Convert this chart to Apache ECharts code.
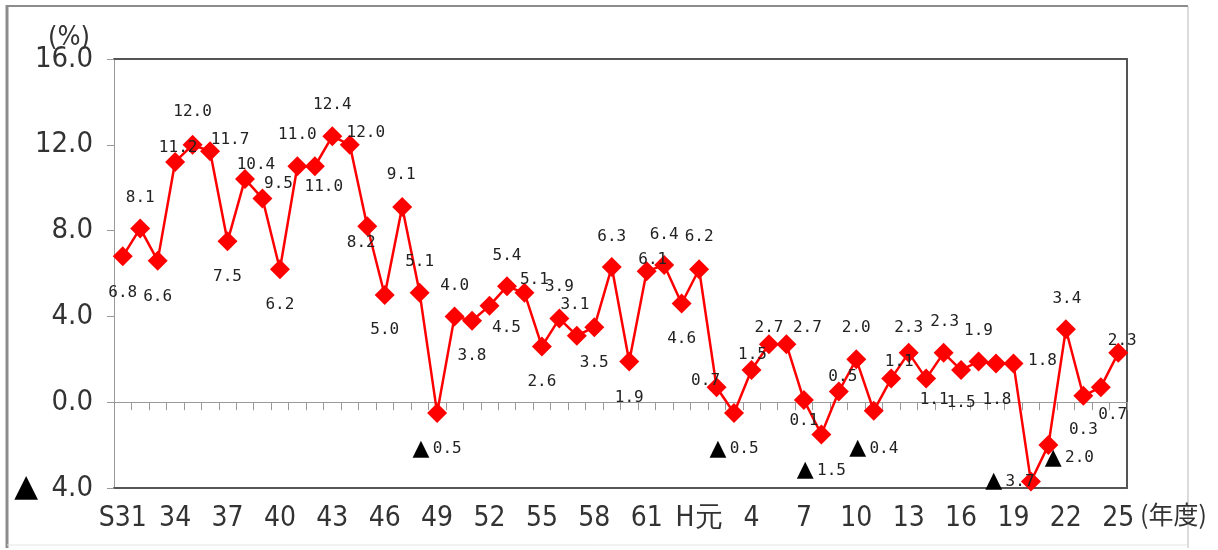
<!DOCTYPE html>
<html>
<head>
<meta charset="utf-8">
<script src="https://cdn.jsdelivr.net/npm/echarts@6/dist/echarts.min.js"></script>
<style>
  html, body { margin: 0; padding: 0; background: #fff; }
  #chart { width: 1218px; height: 550px; }
</style>
</head>
<body>
<div id="chart"></div>
<script>
// Fiscal years: Showa 31 to Heisei 25
const fiscalYears = ['S31','32','33','34','35','36','37','38','39','40','41','42','43','44','45','46','47','48','49','50',
  '51','52','53','54','55','56','57','58','59','60','61','62','63','H元','2','3','4','5','6','7','8','9','10','11','12',
  '13','14','15','16','17','18','19','20','21','22','23','24','25'];

// Year-on-year growth rate (%)
const growthRates = [6.8, 8.1, 6.6, 11.2, 12.0, 11.7, 7.5, 10.4, 9.5, 6.2, 11.0, 11.0, 12.4, 12.0, 8.2, 5.0, 9.1, 5.1,
  -0.5, 4.0, 3.8, 4.5, 5.4, 5.1, 2.6, 3.9, 3.1, 3.5, 6.3, 1.9, 6.1, 6.4, 4.6, 6.2, 0.7, -0.5, 1.5, 2.7, 2.7, 0.1,
  -1.5, 0.5, 2.0, -0.4, 1.1, 2.3, 1.1, 2.3, 1.5, 1.9, 1.8, 1.8, -3.7, -2.0, 3.4, 0.3, 0.7, 2.3];

// Y axis range and step (%)
const yMin = -4, yMax = 16, yStep = 4;

// Value-label offsets from each marker centre [dx, dy] in px
const labelOffsets = [
  [0,37],[0,-31],[0,36],[3,-14],[0,-33],[20,-11],[0,36],[11,-14],[16,-15],[0,36],
  [0,-31],[9,21],[0,-31],[16,-12],[-6,17],[0,35],[-1,-32],[0,-31],[0,36],[0,-31],
  [0,35],[17,22],[0,-31],[10,-13],[0,35],[0,-32],[-2,-31],[0,36],[0,-30],[0,36],
  [6,-12],[0,-30],[0,35],[0,-32],[-11,-6],[0,36],[1,-15],[0,-16],[21,-16],[0,21],
  [0,36],[4,-15],[0,-31],[0,38],[8,-17],[0,-25],[8,21],[1,-31],[0,33],[0,-31],
  [1,36],[29,-3],[-21,0],[21,13],[1,-30],[0,34],[12,28],[4,-12]
];

const axisFont = "'Liberation Sans Narrow', 'DejaVu Sans Condensed', 'Liberation Sans', sans-serif";
const valueFont = "'DejaVu Sans Mono', 'Liberation Mono', monospace";

// Negative values are written with a leading ▲
function fmtValue(v) {
  return v < 0 ? '{t|▲} {n|' + Math.abs(v).toFixed(1) + '}' : '{n|' + v.toFixed(1) + '}';
}

const chart = echarts.init(document.getElementById('chart'), null, { renderer: 'canvas' });

chart.setOption({
  animation: false,
  backgroundColor: '#fff',
  grid: { left: 114, right: 91, top: 59, bottom: 62, show: false },
  graphic: [
    { type: 'line', z: -1, shape: { x1: 7, y1: 6, x2: 1188, y2: 6 }, style: { stroke: '#8c8c8c', lineWidth: 2 } },
    { type: 'line', z: -1, shape: { x1: 7, y1: 5, x2: 7, y2: 548 }, style: { stroke: '#8c8c8c', lineWidth: 3 } },
    { type: 'line', z: -1, shape: { x1: 1188, y1: 6, x2: 1188, y2: 548 }, style: { stroke: '#b8b8b8', lineWidth: 1 } },
    { type: 'line', z: -1, shape: { x1: 7, y1: 545, x2: 1188, y2: 545 }, style: { stroke: '#e4e4e4', lineWidth: 1 } }
  ],
  xAxis: [
    {
      // bottom axis: category labels and frame bottom
      type: 'category',
      data: fiscalYears,
      position: 'bottom',
      boundaryGap: true,
      axisLine: { onZero: false, lineStyle: { color: '#555', width: 2 } },
      axisTick: { show: false },
      axisLabel: {
        interval: 2,
        margin: 17,
        fontFamily: axisFont,
        fontSize: 28,
        color: '#333'
      },
      name: '(年度)',
      nameLocation: 'end',
      nameGap: 13,
      nameMoveOverlap: false,
      nameTextStyle: {
        fontFamily: "'Noto Sans CJK JP', sans-serif",
        fontSize: 25,
        color: '#333',
        align: 'left',
        verticalAlign: 'top',
        padding: [14, 0, 0, 0]
      },
      splitLine: { show: false }
    },
    {
      // zero line with category ticks
      type: 'category',
      data: fiscalYears,
      position: 'bottom',
      boundaryGap: true,
      axisLine: { onZero: true, onZeroAxisIndex: 0, lineStyle: { color: '#9a9a9a', width: 1 } },
      axisTick: { show: true, interval: 0, inside: false, length: 8, lineStyle: { color: '#9a9a9a' } },
      axisLabel: { show: false },
      splitLine: { show: false }
    },
    {
      // frame top
      type: 'category',
      data: fiscalYears,
      position: 'top',
      axisLine: { onZero: false, lineStyle: { color: '#555', width: 2 } },
      axisTick: { show: false },
      axisLabel: { show: false },
      splitLine: { show: false }
    }
  ],
  yAxis: [
    {
      type: 'value',
      min: yMin,
      max: yMax,
      interval: yStep,
      position: 'left',
      axisLine: { show: true, lineStyle: { color: '#9a9a9a', width: 1 } },
      axisTick: { show: true, inside: false, length: 7, lineStyle: { color: '#9a9a9a' } },
      splitLine: { show: false },
      axisLabel: {
        margin: 21,
        color: '#333',
        formatter: function (v) {
          return v < 0 ? '{t|▲}    {n|' + Math.abs(v).toFixed(1) + '}' : '{n|' + v.toFixed(1) + '}';
        },
        rich: {
          n: { fontFamily: axisFont, fontSize: 29, color: '#333' },
          t: { fontFamily: "'DejaVu Sans', sans-serif", fontSize: 31, color: '#000' }
        }
      },
      name: '(%)',
      nameLocation: 'end',
      nameGap: 8,
      nameMoveOverlap: false,
      nameTextStyle: {
        fontFamily: axisFont,
        fontSize: 27,
        color: '#333',
        align: 'right',
        verticalAlign: 'bottom',
        padding: [0, 24, 0, 0]
      }
    },
    {
      // frame right
      type: 'value',
      min: yMin,
      max: yMax,
      interval: yStep,
      position: 'right',
      axisLine: { show: true, lineStyle: { color: '#555', width: 2 } },
      axisTick: { show: false },
      axisLabel: { show: false },
      splitLine: { show: false }
    }
  ],
  series: [
    {
      type: 'line',
      xAxisIndex: 0,
      yAxisIndex: 0,
      data: growthRates.map(function (v, i) {
        return { value: v, label: { offset: labelOffsets[i] } };
      }),
      symbol: 'diamond',
      symbolSize: 20,
      showAllSymbol: true,
      itemStyle: { color: '#ff0000' },
      lineStyle: { color: '#ff0000', width: 2.5 },
      label: {
        show: true,
        position: 'inside',
        formatter: function (p) { return fmtValue(p.value); },
        rich: {
          n: { fontFamily: valueFont, fontSize: 16, color: '#222' },
          t: { fontFamily: "'DejaVu Sans', sans-serif", fontSize: 22, color: '#000' }
        }
      }
    }
  ]
});
</script>
</body>
</html>
